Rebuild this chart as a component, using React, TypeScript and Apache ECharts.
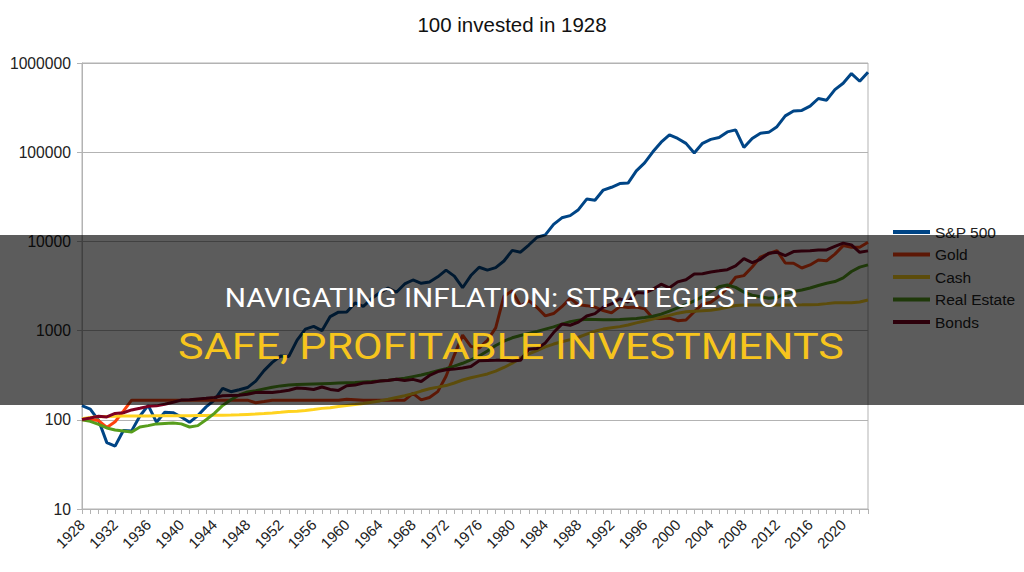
import React, { useEffect, useRef } from "react";
import * as echarts from "echarts";

const years = [
  "1928","1929","1930","1931","1932","1933","1934","1935","1936","1937",
  "1938","1939","1940","1941","1942","1943","1944","1945","1946","1947",
  "1948","1949","1950","1951","1952","1953","1954","1955","1956","1957",
  "1958","1959","1960","1961","1962","1963","1964","1965","1966","1967",
  "1968","1969","1970","1971","1972","1973","1974","1975","1976","1977",
  "1978","1979","1980","1981","1982","1983","1984","1985","1986","1987",
  "1988","1989","1990","1991","1992","1993","1994","1995","1996","1997",
  "1998","1999","2000","2001","2002","2003","2004","2005","2006","2007",
  "2008","2009","2010","2011","2012","2013","2014","2015","2016","2017",
  "2018","2019","2020","2021","2022","2023",
];

const sp500 = [
  143.8, 131.9, 98.7, 55.5, 50.7, 76.0, 75.1, 110.2, 145.4, 94.0,
  121.5, 120.2, 107.4, 93.7, 111.6, 139.6, 166.2, 225.7, 206.6, 217.4,
  229.8, 271.8, 355.6, 439.8, 519.6, 513.4, 783.2, 1038.5, 1115.7, 999.0,
  1435.8, 1608.9, 1614.4, 2044.4, 1864.3, 2285.8, 2661.0, 2991.0, 2692.7, 3333.7,
  3694.2, 3389.8, 3510.5, 4009.7, 4761.8, 4080.4, 3023.5, 4142.1, 5129.1, 4771.3,
  5081.8, 6022.9, 7934.3, 7561.2, 9105.1, 11138.9, 11823.5, 15516.6, 18386.3, 19453.9,
  22672.4, 29808.6, 28895.1, 37631.5, 40451.5, 44483.3, 45073.1, 61838.2, 75863.7, 100977.3,
  129592.3, 156658.1, 142509.0, 125622.0, 98027.8, 125824.4, 139341.4, 146077.9, 168884.3, 178147.2,
  113030.2, 142344.9, 163441.9, 166871.6, 193388.4, 255553.3, 290115.4, 294115.8, 328742.3, 399783.3,
  382879.3, 502343.3, 592891.4, 761710.9, 624304.8, 787004.0,
];

const gold = [
  100, 100, 98, 82, 95, 125, 166, 166, 166, 166,
  166, 166, 166, 166, 166, 166, 166, 166, 166, 166,
  166, 155, 160, 166, 166, 166, 166, 166, 166, 166,
  166, 166, 170, 168, 166, 166, 166, 166, 166, 166,
  198, 167, 178, 207, 308, 532, 888, 665, 636, 779,
  1074, 2432, 2798, 1886, 2166, 1815, 1463, 1553, 1853, 2299,
  1948, 1905, 1834, 1677, 1582, 1857, 1819, 1838, 1753, 1378,
  1368, 1378, 1292, 1316, 1625, 1976, 2081, 2437, 3002, 3962,
  4133, 5168, 6674, 7272, 7871, 5724, 5695, 5035, 5444, 6189,
  6075, 7196, 8968, 8579, 8607, 9795,
];

const cash = [
  103.1, 106.3, 107.9, 109.0, 109.7, 110.0, 110.2, 110.4, 110.6, 110.9,
  110.9, 111.0, 111.0, 111.0, 111.4, 111.8, 112.2, 112.6, 113.0, 113.6,
  114.9, 116.2, 117.6, 119.5, 121.6, 123.9, 124.9, 127.0, 130.2, 134.3,
  136.2, 140.6, 144.8, 148.1, 152.3, 157.1, 162.9, 169.6, 178.2, 185.8,
  196.4, 210.0, 223.2, 232.3, 241.9, 258.8, 279.2, 295.6, 310.9, 326.8,
  350.8, 386.0, 430.9, 493.9, 546.8, 596.7, 655.6, 706.5, 749.0, 791.6,
  842.0, 911.1, 983.1, 1039.5, 1075.4, 1107.8, 1156.0, 1221.5, 1283.8, 1349.2,
  1414.8, 1480.8, 1568.1, 1625.5, 1652.6, 1669.3, 1691.5, 1744.8, 1827.0, 1908.5,
  1933.5, 1936.3, 1938.8, 1939.8, 1941.0, 1941.7, 1942.3, 1943.3, 1949.3, 1966.9,
  2006.5, 2049.0, 2056.2, 2057.1, 2096.7, 2198.2,
];

const realEstate = [
  100, 96, 89, 81, 77, 75, 73, 83, 86, 90,
  91, 92, 90, 83, 86, 100, 118, 145, 168, 190,
  205, 212, 222, 232, 240, 245, 248, 250, 252, 254,
  256, 258, 260, 262, 265, 268, 272, 278, 285, 292,
  305, 318, 335, 355, 375, 400, 430, 470, 520, 590,
  680, 760, 830, 880, 930, 980, 1040, 1100, 1180, 1260,
  1310, 1340, 1330, 1320, 1320, 1330, 1350, 1370, 1400, 1450,
  1530, 1650, 1800, 1950, 2150, 2400, 2750, 3100, 3250, 3050,
  2700, 2500, 2400, 2300, 2350, 2600, 2750, 2850, 3000, 3200,
  3400, 3550, 3900, 4600, 5150, 5450,
];

const bonds = [
  100.8, 105.0, 109.8, 107.6, 117.7, 119.9, 129.1, 134.8, 141.5, 143.3,
  149.6, 157.2, 166.2, 167.8, 171.4, 174.1, 178.4, 185.6, 187.3, 188.3,
  193.7, 202.5, 203.5, 202.8, 208.0, 214.7, 226.8, 224.1, 218.4, 233.1,
  219.0, 213.6, 240.7, 244.8, 258.3, 262.5, 272.4, 275.4, 285.6, 276.4,
  284.0, 269.2, 313.8, 346.5, 363.7, 370.0, 381.0, 395.8, 458.9, 463.0,
  465.0, 468.1, 456.1, 465.3, 618.6, 631.6, 727.9, 950.5, 1181.6, 1148.7,
  1243.5, 1456.1, 1548.0, 1835.2, 1989.8, 2273.4, 2091.7, 2676.7, 2643.2, 2901.2,
  3317.2, 3016.3, 3517.5, 3716.4, 4318.7, 4341.7, 4545.5, 4676.4, 4823.3, 5313.3,
  6415.1, 5777.3, 6305.7, 7353.5, 7573.2, 6911.8, 7683.0, 7783.1, 7843.2, 8027.5,
  8027.9, 8770.1, 9561.2, 9140.7, 7537.7, 7826.8,
];

const seriesNames = ["S&P 500", "Gold", "Cash", "Real Estate", "Bonds"];
const seriesColors = ["#004586", "#ff420e", "#ffd320", "#579d1c", "#7e0021"];
const seriesData = [sp500, gold, cash, realEstate, bonds];

const chartTitle = "100 invested in 1928";
const bannerLine1 = "NAVIGATING INFLATION: STRATEGIES FOR";
const bannerLine2 = "SAFE, PROFITABLE INVESTMENTS";

export default function App() {
  const ref = useRef<HTMLDivElement>(null);

  useEffect(() => {
    if (!ref.current) return;
    const chart = echarts.init(ref.current, null, { renderer: "svg" });
    const font = "Liberation Sans";
    chart.setOption({
      animation: false,
      backgroundColor: "#ffffff",
      title: {
        text: chartTitle,
        left: "center",
        top: 9,
        textStyle: { fontFamily: font, fontSize: 20.5, fontWeight: "normal", color: "#111" },
      },
      grid: {
        left: 82,
        right: 156,
        top: 63,
        bottom: 63,
        show: true,
        borderColor: "#b3b3b3",
        borderWidth: 1,
      },
      legend: {
        orient: "vertical",
        left: 888,
        top: 219,
        icon: "rect",
        itemWidth: 37,
        itemHeight: 4,
        itemGap: 6.5,
        data: seriesNames,
        textStyle: { fontFamily: font, fontSize: 15.5, color: "#222", lineHeight: 16 },
      },
      xAxis: {
        type: "category",
        data: years,
        boundaryGap: false,
        axisLine: { lineStyle: { color: "#b3b3b3" } },
        axisTick: { show: true, interval: 0, length: 5, lineStyle: { color: "#b3b3b3" } },
        axisLabel: {
          interval: 3,
          rotate: 45,
          fontSize: 15,
          color: "#222",
          fontFamily: font,
          margin: 13,
        },
        splitLine: { show: false },
      },
      yAxis: {
        type: "log",
        logBase: 10,
        min: 10,
        max: 1000000,
        splitNumber: 5,
        axisLine: { show: true, lineStyle: { color: "#b3b3b3" } },
        axisTick: { show: true, length: 5, lineStyle: { color: "#b3b3b3" } },
        axisLabel: {
          fontSize: 15.7,
          color: "#222",
          fontFamily: font,
          margin: 11,
          formatter: (v: number) => String(Math.round(v)),
        },
        splitLine: { show: true, lineStyle: { color: "#b3b3b3", width: 1 } },
      },
      series: seriesNames.map((name, i) => ({
        name,
        type: "line",
        data: seriesData[i],
        symbol: "none",
        showSymbol: false,
        color: seriesColors[i],
        lineStyle: { width: 3, color: seriesColors[i] },
      })),
      graphic: [
        {
          type: "rect",
          z: 100,
          shape: { x: 0, y: 235, width: 1024, height: 170 },
          style: { fill: "rgba(0,0,0,0.64)" },
        },
        {
          type: "text",
          z: 101,
          x: 511,
          y: 298,
          scaleX: 1.145,
          style: {
            text: bannerLine1,
            fill: "#ffffff",
            fontFamily: "Roboto",
            fontSize: 26,
            align: "center",
            verticalAlign: "middle",
          },
        },
        {
          type: "text",
          z: 101,
          x: 511,
          y: 347,
          scaleX: 1.165,
          style: {
            text: bannerLine2,
            fill: "#f7c51d",
            fontFamily: "Roboto",
            fontSize: 37,
            align: "center",
            verticalAlign: "middle",
          },
        },
      ],
    });
    return () => chart.dispose();
  }, []);

  return (
    <div
      ref={ref}
      style={{ position: "fixed", left: 0, top: 0, width: 1024, height: 572 }}
    />
  );
}
